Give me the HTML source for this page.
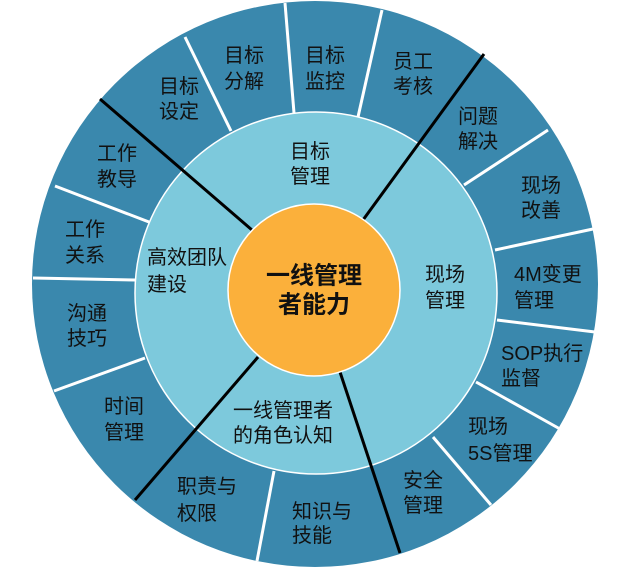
<!DOCTYPE html>
<html><head><meta charset="utf-8"><style>
html,body{margin:0;padding:0;background:#fff;}
svg{display:block;}
text{font-family:"Liberation Sans","Noto Sans CJK SC",sans-serif;font-size:20px;fill:#111;dominant-baseline:central;}
</style></head><body>
<svg width="620" height="568" viewBox="0 0 620 568" xmlns="http://www.w3.org/2000/svg">
<circle cx="315" cy="284" r="283" fill="#3A88AD"/>
<g stroke="#fff" stroke-width="3">
<line x1="185" y1="37" x2="231" y2="131"/>
<line x1="285" y1="3" x2="294" y2="113"/>
<line x1="382" y1="10" x2="358" y2="117"/>
<line x1="548" y1="130" x2="464" y2="185"/>
<line x1="593" y1="229" x2="495" y2="250"/>
<line x1="595" y1="332" x2="497" y2="320"/>
<line x1="560" y1="429" x2="476" y2="382"/>
<line x1="491" y1="505" x2="433" y2="437"/>
<line x1="274" y1="471" x2="257" y2="561"/>
<line x1="145" y1="358" x2="54" y2="391"/>
<line x1="135" y1="280" x2="33" y2="278"/>
<line x1="149" y1="222" x2="55" y2="186"/>
</g>
<circle cx="316" cy="293" r="181" fill="#7DC9DC" stroke="#fff" stroke-width="1.5"/>
<g stroke="#000" stroke-width="3">
<line x1="100" y1="99" x2="252" y2="230"/>
<line x1="484" y1="54" x2="363" y2="220"/>
<line x1="258" y1="357" x2="135" y2="500"/>
<line x1="340" y1="372" x2="400" y2="553"/>
</g>
<circle cx="314" cy="290" r="86" fill="#FBB03B" stroke="#fff" stroke-width="1.5"/>
<text x="159" y="87">目标</text><text x="159" y="112">设定</text>
<text x="224" y="56">目标</text><text x="224" y="82">分解</text>
<text x="305" y="56">目标</text><text x="305" y="82">监控</text>
<text x="393" y="62">员工</text><text x="393" y="87">考核</text>
<text x="458" y="117">问题</text><text x="458" y="142">解决</text>
<text x="521" y="186">现场</text><text x="521" y="211">改善</text>
<text x="514" y="275">4M变更</text><text x="514" y="301">管理</text>
<text x="501" y="354">SOP执行</text><text x="501" y="379">监督</text>
<text x="468" y="427">现场</text><text x="468" y="454">5S管理</text>
<text x="403" y="481">安全</text><text x="403" y="506">管理</text>
<text x="292" y="512">知识与</text><text x="292" y="536">技能</text>
<text x="177" y="487">职责与</text><text x="177" y="514">权限</text>
<text x="104" y="407">时间</text><text x="104" y="433">管理</text>
<text x="67" y="314">沟通</text><text x="67" y="339">技巧</text>
<text x="65" y="230">工作</text><text x="65" y="256">关系</text>
<text x="97" y="154">工作</text><text x="97" y="180">教导</text>
<text x="290" y="152">目标</text><text x="290" y="177">管理</text>
<text x="147" y="258">高效团队</text><text x="147" y="285">建设</text>
<text x="425" y="275">现场</text><text x="425" y="301">管理</text>
<text x="233" y="411">一线管理者</text><text x="233" y="436">的角色认知</text>
<text x="314" y="276" text-anchor="middle" style="font-size:24px;font-weight:bold">一线管理</text>
<text x="314" y="305" text-anchor="middle" style="font-size:24px;font-weight:bold">者能力</text>
</svg>
</body></html>
